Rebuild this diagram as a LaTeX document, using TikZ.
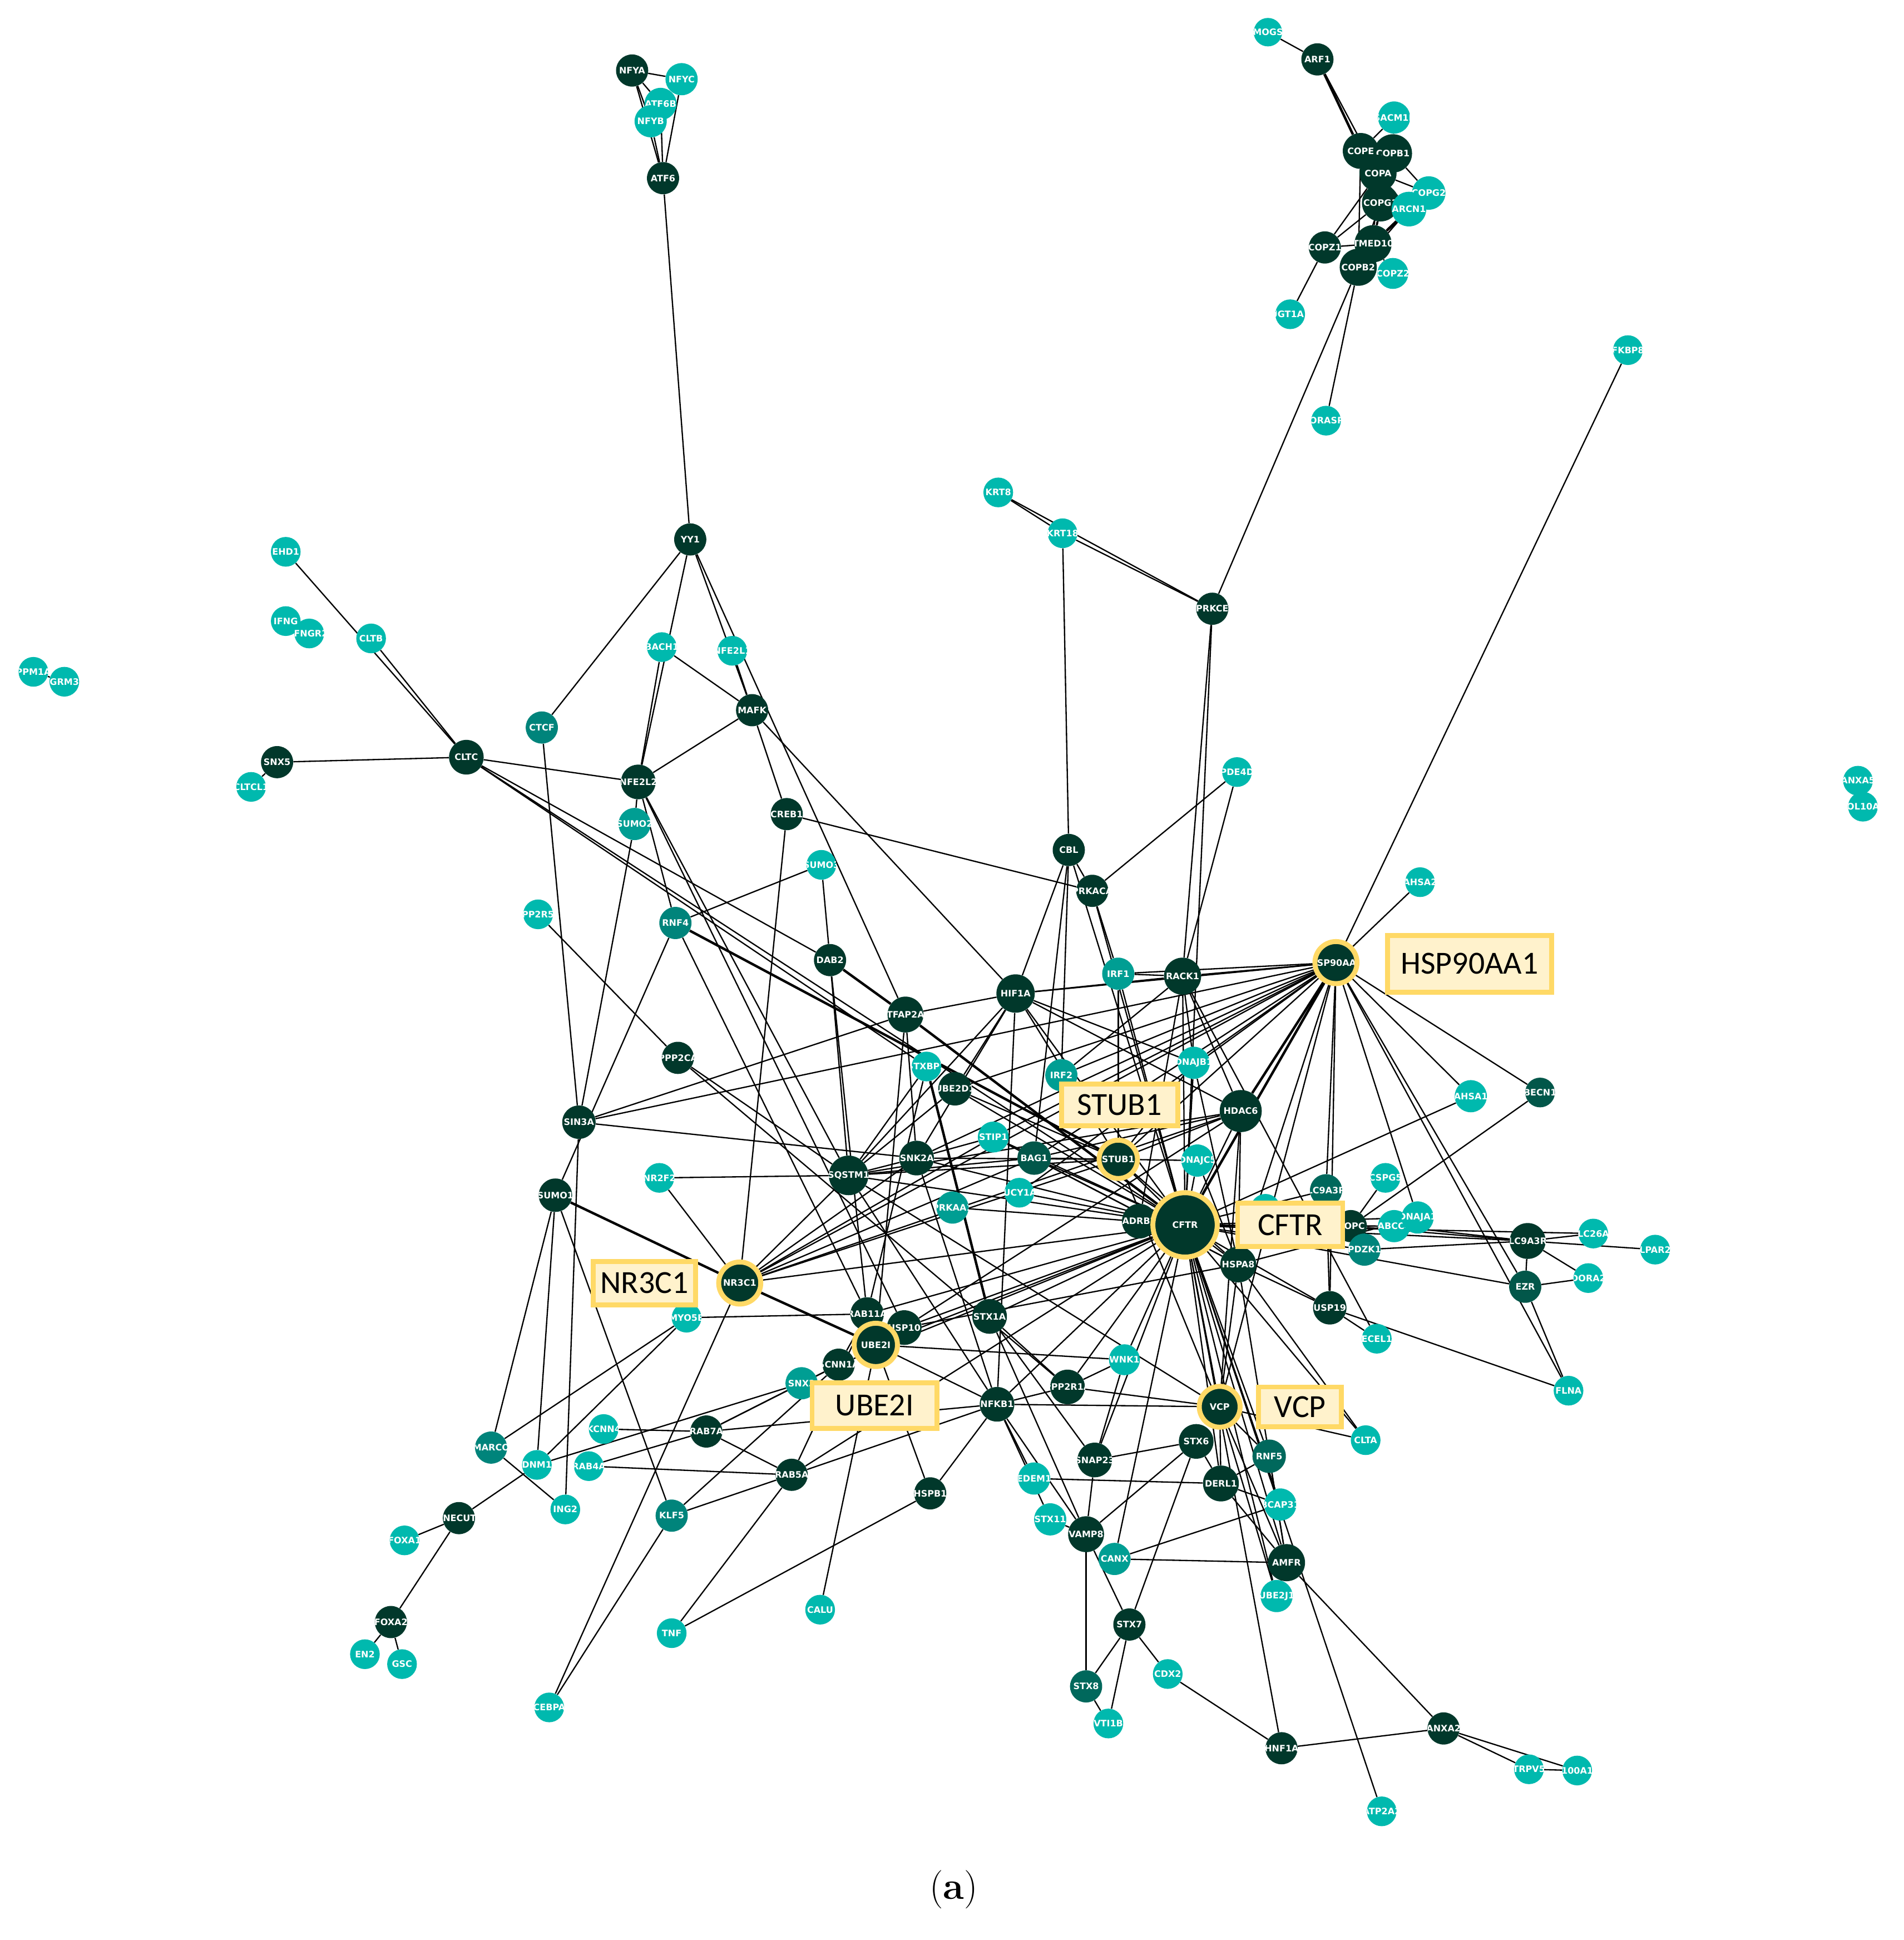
\documentclass[tikz,border=0pt]{standalone}
\usepackage{fontspec}
\newfontfamily\labfont{DejaVu Sans}
\newfontfamily\boxfont{Carlito}
\usetikzlibrary{backgrounds}
\definecolor{cdk}{HTML}{01382B}
\definecolor{ctwo}{HTML}{02574A}
\definecolor{ctwob}{HTML}{00685C}
\definecolor{cthree}{HTML}{00847B}
\definecolor{cfour}{HTML}{009E93}
\definecolor{cbr}{HTML}{00B9AE}
\definecolor{cring}{HTML}{FFD966}
\definecolor{cbox}{HTML}{FFF2CC}
\tikzset{
 lbl/.style={text=white, font=\labfont\bfseries\fontsize{7.2}{7.2}\selectfont, inner sep=0pt, fill=none, draw=none},
 nd/.style={circle, inner sep=0pt, path picture={\node[lbl] at (path picture bounding box.center) {#1};}},
 dkn/.style={nd={#1}, fill=cdk, minimum size=26pt},
 twn/.style={nd={#1}, fill=ctwo, minimum size=26pt},
 twbn/.style={nd={#1}, fill=ctwob, minimum size=26pt},
 thn/.style={nd={#1}, fill=cthree, minimum size=26pt},
 fon/.style={nd={#1}, fill=cfour, minimum size=26pt},
 brn/.style={nd={#1}, fill=cbr, minimum size=24pt},
 rgn/.style={nd={#1}, fill=cdk, draw=cring, line width=4pt},
 ed/.style={draw=black, line width=1.05pt},
 thk/.style={draw=black, line width=2pt},
 lbox/.style={rectangle, draw=cring, fill=cbox, line width=4pt, inner sep=0pt, font=\boxfont\fontsize{26}{26}\selectfont, text=black},
}
\begin{document}
\begin{tikzpicture}[x=1pt,y=-1pt]
\useasboundingbox (0,0) rectangle (1539,1568);
% ---------- nodes ----------
% NFY cluster
\node[brn=ATF6B,minimum size=26pt] (atf6b) at (534,84) {};
\node[brn=NFYC,minimum size=26pt] (nfyc) at (551,64) {};
\node[brn=NFYB,minimum size=26pt] (nfyb) at (526,98) {};
\node[dkn=NFYA] (nfya) at (511,57) {};
\node[dkn=ATF6] (atf6) at (536,144) {};
% COP cluster
\node[brn=MOGS,minimum size=23pt] (mogs) at (1025,26) {};
\node[dkn=ARF1] (arf1) at (1065,48) {};
\node[brn=SACM1L,minimum size=26pt] (sacm1l) at (1127,95) {};
\node[dkn=COPE,minimum size=29pt] (cope) at (1100,122) {};
\node[dkn=COPB1,minimum size=31pt] (copb1) at (1126,124) {};
\node[dkn=COPA,minimum size=30pt] (copa) at (1114,140) {};
\node[brn=COPG2,minimum size=27pt] (copg2) at (1155,156) {};
\node[dkn=COPG1,minimum size=30pt] (copg1) at (1116,164) {};
\node[brn=ARCN1,minimum size=28pt] (arcn1) at (1139,169) {};
\node[dkn=COPZ1] (copz1) at (1071,200) {};
\node[dkn=TMED10,minimum size=30pt] (tmed10) at (1110,197) {};
\node[dkn=COPB2,minimum size=30pt] (copb2) at (1098,216) {};
\node[brn=COPZ2,minimum size=25pt] (copz2) at (1126,221) {};
\node[brn=UGT1A1] (ugt) at (1043,254) {};
\node[brn=GORASP2] (gorasp) at (1072,340) {};
\node[brn=FKBP8] (fkbp8) at (1316,283) {};
% left / top
\node[dkn=YY1] (yy1) at (558,436) {};
\node[brn=KRT8] (krt8) at (807,398) {};
\node[brn=KRT18] (krt18) at (859,431) {};
\node[dkn=PRKCE] (prkce) at (980,492) {};
\node[brn=EHD1] (ehd1) at (231,446) {};
\node[brn=IFNG] (ifng) at (231,502) {};
\node[brn=IFNGR2] (ifngr2) at (250,512) {};
\node[brn=CLTB] (cltb) at (300,516) {};
\node[brn=PPM1A] (ppm1a) at (27,543) {};
\node[brn=GRM3] (grm3) at (52,551) {};
\node[dkn=SNX5] (snx5) at (224,616) {};
\node[brn=CLTCL1] (cltcl1) at (203,636) {};
\node[dkn=CLTC,minimum size=28pt] (cltc) at (377,612) {};
\node[thn=CTCF] (ctcf) at (438,588) {};
\node[brn=BACH1] (bach1) at (535,523) {};
\node[brn=NFE2L1] (nfe2l1) at (592,526) {};
\node[dkn=MAFK] (mafk) at (608,574) {};
\node[dkn=NFE2L2,minimum size=28pt] (nfe2l2) at (516,632) {};
\node[fon=SUMO2] (sumo2) at (513,666) {};
\node[dkn=CREB1] (creb1) at (636,658) {};
\node[brn=SUMO3] (sumo3) at (664,699) {};
\node[thn=RNF4] (rnf4) at (546,746) {};
\node[brn=PPP2R5A] (ppp2r5) at (435,739) {};
\node[dkn=DAB2] (dab2) at (671,776) {};
\node[dkn=PPP2CA] (ppp2ca) at (548,855) {};
\node[dkn=SIN3A,minimum size=27pt] (sin3a) at (468,907) {};
\node[dkn=SUMO1,minimum size=27pt] (sumo1) at (449,966) {};
\node[brn=NR2F2] (nr2f2) at (533,952) {};
\node[brn=PDE4D] (pde4d) at (1000,624) {};
\node[dkn=CBL] (cbl) at (864,687) {};
\node[dkn=PRKACA] (prkaca) at (883,720) {};
\node[brn=AHSA2] (ahsa2) at (1148,713) {};
% centre
\node[dkn=HIF1A,minimum size=31pt] (hif1a) at (821,803) {};
\node[dkn=TFAP2A,minimum size=29pt] (tfap2a) at (732,820) {};
\node[fon=IRF1] (irf1) at (904,787) {};
\node[dkn=RACK1,minimum size=30pt] (rack1) at (956,789) {};
\node[fon=IRF2] (irf2) at (858,869) {};
\node[brn=STXBP1] (stxbp1) at (749,862) {};
\node[dkn=UBE2D1,minimum size=27pt] (ube2d1) at (772,880) {};
\node[brn=DNAJB1,minimum size=26pt] (dnajb1) at (965,859) {};
\node[dkn=HDAC6,minimum size=34pt] (hdac6) at (1003,898) {};
\node[brn=STIP1,minimum size=25pt] (stip1) at (803,919) {};
\node[twn=BAG1,minimum size=27pt] (bag1) at (836,936) {};
\node[dkn=CSNK2A1,minimum size=28pt] (csnk2a1) at (741,936) {};
\node[dkn=SQSTM1,minimum size=32pt] (sqstm1) at (686,950) {};
\node[brn=DNAJC5,minimum size=26pt] (dnajc5) at (968,938) {};
\node[brn=GUCY1A3] (gucy1a) at (824,964) {};
\node[fon=PRKAA1] (prkaa1) at (770,976) {};
\node[dkn=ADRB2,minimum size=28pt] (adrb2) at (921,987) {};
\node[brn={}] (hid) at (1023,977) {};
\node[brn=AHSA1,minimum size=26pt] (ahsa1) at (1189,886) {};
\node[twn=BECN1,minimum size=24pt] (becn1) at (1245,883) {};
\node[twbn=SLC9A3R2] (slcr2) at (1072,962) {};
\node[brn=CSPG5] (cspg5) at (1120,952) {};
\node[dkn=GOPC] (gopc) at (1092,991) {};
\node[brn=ABCC4,minimum size=26pt] (abcc4) at (1127,991) {};
\node[brn=DNAJA1,minimum size=26pt] (dnaja1) at (1146,984) {};
\node[thn=PDZK1] (pdzk1) at (1103,1010) {};
\node[dkn=HSPA8,minimum size=29pt] (hspa8) at (1001,1022) {};
\node[dkn=USP19,minimum size=27pt] (usp19) at (1075,1057) {};
\node[brn=ECEL1] (ecel1) at (1113,1082) {};
\node[dkn=SLC9A3R1,minimum size=29pt] (slcr1) at (1235,1003) {};
\node[brn=SLC26A9] (slc26) at (1288,997) {};
\node[brn=LPAR2] (lpar2) at (1338,1010) {};
\node[brn=ADORA2B] (adora) at (1284,1033) {};
\node[twn=EZR] (ezr) at (1233,1040) {};
\node[brn=FLNA] (flna) at (1268,1124) {};
\node[brn=CLTA] (clta) at (1104,1164) {};
\node[brn=ANXA5] (anxa5) at (1502,631) {};
\node[brn=COL10A1] (col10) at (1506,652) {};
% lower
\node[brn=MYO5B] (myo5b) at (555,1065) {};
\node[dkn=RAB11A,minimum size=27pt] (rab11a) at (701,1062) {};
\node[dkn=USP10,minimum size=28pt] (usp10) at (731,1073) {};
\node[dkn=SCNN1A] (scnn1a) at (678,1103) {};
\node[fon=SNX3] (snx3) at (648,1118) {};
\node[dkn=STX1A,minimum size=28pt] (stx1a) at (800,1064) {};
\node[brn=WNK1,minimum size=25pt] (wnk1) at (909,1099) {};
\node[dkn=PPP2R1A,minimum size=28pt] (ppp2r1a) at (863,1121) {};
\node[dkn=NFKB1,minimum size=28pt] (nfkb1) at (806,1135) {};
\node[brn=KCNN4] (kcnn4) at (488,1155) {};
\node[dkn=RAB7A] (rab7a) at (571,1157) {};
\node[brn=RAB4A] (rab4a) at (476,1185) {};
\node[dkn=RAB5A] (rab5a) at (640,1192) {};
\node[thn=MARCO] (marco) at (397,1170) {};
\node[brn=DNM1] (dnm1) at (434,1184) {};
\node[brn=ING2] (ing2) at (457,1220) {};
\node[dkn=ONECUT1] (onecut1) at (371,1227) {};
\node[brn=FOXA1] (foxa1) at (327,1245) {};
\node[dkn=FOXA2] (foxa2) at (316,1311) {};
\node[brn=EN2] (en2) at (295,1337) {};
\node[brn=GSC] (gsc) at (325,1345) {};
\node[thn=KLF5] (klf5) at (543,1225) {};
\node[dkn=HSPB1] (hspb1) at (752,1207) {};
\node[dkn=SNAP23,minimum size=28pt] (snap23) at (885,1180) {};
\node[dkn=STX6,minimum size=28pt] (stx6) at (967,1165) {};
\node[twbn=RNF5,minimum size=27pt] (rnf5) at (1026,1177) {};
\node[dkn=DERL1,minimum size=29pt] (derl1) at (987,1199) {};
\node[brn=BCAP31,minimum size=26pt] (bcap31) at (1035,1216) {};
\node[brn=EDEM1,minimum size=26pt] (edem1) at (836,1195) {};
\node[brn=STX11,minimum size=26pt] (stx11) at (849,1228) {};
\node[dkn=VAMP8,minimum size=29pt] (vamp8) at (878,1240) {};
\node[fon=CANX] (canx) at (901,1260) {};
\node[dkn=AMFR,minimum size=30pt] (amfr) at (1040,1263) {};
\node[brn=UBE2J1,minimum size=26pt] (ube2j1) at (1032,1290) {};
\node[brn=TNF] (tnf) at (543,1320) {};
\node[brn=CALU] (calu) at (663,1301) {};
\node[dkn=STX7] (stx7) at (913,1313) {};
\node[brn=CDX2] (cdx2) at (944,1353) {};
\node[twbn=STX8] (stx8) at (878,1363) {};
\node[brn=VTI1B] (vti1b) at (896,1393) {};
\node[brn=CEBPA] (cebpa) at (444,1380) {};
\node[dkn=HNF1A] (hnf1a) at (1036,1413) {};
\node[dkn=ANXA2] (anxa2) at (1167,1397) {};
\node[brn=TRPV5] (trpv5) at (1236,1430) {};
\node[brn=S100A10] (s100a10) at (1275,1431) {};
\node[brn=ATP2A2] (atp2a2) at (1117,1464) {};
% ringed hubs
\node[rgn=HSP90AA1,minimum size=34pt] (hsp90) at (1080,778) {};
\node[rgn=STUB1,minimum size=31pt] (stub1) at (904,937) {};
\node[rgn=CFTR,minimum size=52pt] (cftr) at (958,990) {};
\node[rgn=NR3C1,minimum size=34pt] (nr3c1) at (598,1037) {};
\node[rgn=UBE2I,minimum size=35pt] (ube2i) at (708,1087) {};
\node[rgn=VCP,minimum size=33pt] (vcp) at (986,1137) {};
% ---------- edges ----------
\begin{pgfonlayer}{background}
\fill[white] (0,0) rectangle (1539,1568);
\foreach \a/\b in {nfya/nfyc,nfya/atf6b,nfya/nfyb,nfya/atf6,nfyb/atf6,atf6b/atf6,nfyc/atf6,atf6/yy1,
 mogs/arf1,arf1/copa,sacm1l/cope,sacm1l/copb1,cope/copb1,cope/copa,copb1/copa,copa/copg1,copb1/copg2,copa/copg2,copa/arcn1,copg1/arcn1,copg1/copz1,copa/copz1,copz1/tmed10,copg1/tmed10,copa/tmed10,cope/copb2,copg1/copb2,tmed10/copb2,copg2/tmed10,tmed10/copz2,copb1/tmed10,copz1/ugt,copb2/gorasp,copb2/prkce,arcn1/copb2,
 ehd1/cltc,cltb/cltc,ppm1a/grm3,snx5/cltc,snx5/cltcl1,cltc/nfe2l2,cltc/dab2,cltc/stxbp1,cltc/cftr,
 yy1/ctcf,yy1/nfe2l2,yy1/mafk,yy1/tfap2a,bach1/nfe2l2,bach1/mafk,nfe2l1/mafk,mafk/nfe2l2,mafk/creb1,mafk/hif1a,ctcf/sin3a,nfe2l2/sumo2,nfe2l2/rnf4,nfe2l2/sqstm1,nfe2l2/usp10,creb1/prkaca,creb1/nr3c1,sumo3/rnf4,sumo3/dab2,sumo2/sin3a,ppp2r5/ppp2ca,rnf4/sumo1,rnf4/rab11a,dab2/sqstm1,dab2/rab11a,tfap2a/hif1a,tfap2a/csnk2a1,tfap2a/ube2i,sin3a/tfap2a,sin3a/hsp90,sin3a/csnk2a1,sin3a/ing2,ppp2ca/sqstm1,ppp2ca/ppp2r1a,
 sumo1/marco,sumo1/dnm1,sumo1/klf5,nr2f2/nr3c1,nr2f2/sqstm1,
 nr3c1/cebpa,nr3c1/csnk2a1,nr3c1/hsp90,nr3c1/stub1,nr3c1/hdac6,nr3c1/cftr,nr3c1/bag1,nr3c1/stip1,nr3c1/sqstm1,
 ube2i/usp10,ube2i/nfkb1,ube2i/wnk1,ube2i/calu,ube2i/hspb1,ube2i/rab11a,ube2i/cftr,
 usp10/cftr,usp10/hspa8,usp10/hdac6,
 scnn1a/cftr,scnn1a/snx3,scnn1a/rab7a,scnn1a/klf5,scnn1a/rab11a,snx3/dnm1,snx3/rab7a,
 rab11a/myo5b,rab11a/stxbp1,rab11a/rab5a,rab11a/cftr,
 marco/myo5b,dnm1/myo5b,onecut1/dnm1,marco/ing2,kcnn4/rab7a,rab4a/rab7a,rab4a/rab5a,rab7a/rab5a,rab7a/nfkb1,klf5/rab5a,klf5/cebpa,tnf/rab5a,tnf/hspb1,onecut1/foxa1,onecut1/foxa2,foxa2/en2,foxa2/gsc,rab5a/cftr,rab5a/nfkb1,
 stx1a/cftr,stx1a/snap23,stx1a/vamp8,stx1a/ppp2r1a,
 nfkb1/vcp,nfkb1/ppp2r1a,nfkb1/hif1a,nfkb1/csnk2a1,nfkb1/sqstm1,nfkb1/edem1,nfkb1/vamp8,nfkb1/stx11,nfkb1/hspb1,
 ppp2r1a/vcp,ppp2r1a/wnk1,ppp2r1a/cftr,
 vcp/amfr,vcp/derl1,vcp/hdac6,vcp/cftr,vcp/clta,vcp/hspa8,vcp/ube2j1,vcp/stub1,vcp/sqstm1,vcp/rnf5,
 snap23/stx6,snap23/vamp8,snap23/wnk1,stx6/vamp8,stx6/stx7,stx6/derl1,
 derl1/amfr,derl1/rnf5,derl1/bcap31,derl1/edem1,derl1/cftr,
 amfr/canx,amfr/cftr,amfr/ube2j1,amfr/anxa2,amfr/rnf5,amfr/hspa8,
 bcap31/canx,bcap31/cftr,canx/cftr,ube2j1/cftr,stx11/vamp8,
 vamp8/stx7,vamp8/stx8,stx7/stx8,stx7/vti1b,stx8/vti1b,stx7/cdx2,cdx2/hnf1a,hnf1a/anxa2,hnf1a/cftr,anxa2/trpv5,anxa2/s100a10,trpv5/s100a10,atp2a2/cftr,
 cftr/hdac6,cftr/stub1,cftr/hspa8,cftr/usp19,cftr/slcr1,cftr/slcr2,cftr/pdzk1,cftr/gopc,cftr/ezr,cftr/slc26,cftr/abcc4,cftr/dnaja1,cftr/dnajb1,cftr/dnajc5,cftr/ahsa1,cftr/bag1,cftr/csnk2a1,cftr/sqstm1,cftr/prkaa1,cftr/prkaca,cftr/rack1,cftr/irf1,cftr/cbl,cftr/prkce,cftr/nfkb1,cftr/wnk1,cftr/gucy1a,cftr/stip1,cftr/ube2d1,cftr/hif1a,cftr/rnf5,cftr/snap23,cftr/clta,
 hsp90/fkbp8,hsp90/ahsa2,hsp90/ahsa1,hsp90/stub1,hsp90/rack1,hsp90/irf1,hsp90/hif1a,hsp90/csnk2a1,hsp90/stip1,hsp90/gucy1a,hsp90/hspa8,hsp90/ezr,hsp90/dnaja1,hsp90/slcr2,hsp90/flna,hsp90/usp19,hsp90/becn1,hsp90/bag1,hsp90/dnajb1,hsp90/irf2,hsp90/vcp,hsp90/ube2d1,
 hdac6/stub1,hdac6/hspa8,hdac6/sqstm1,hdac6/hif1a,hdac6/rack1,hdac6/bag1,
 stub1/hspa8,stub1/bag1,stub1/ube2d1,stub1/hif1a,stub1/irf1,stub1/dnajc5,stub1/sqstm1,stub1/csnk2a1,stub1/dnajb1,
 hif1a/cbl,hif1a/rack1,hif1a/sqstm1,hif1a/ube2d1,hif1a/csnk2a1,hif1a/dnajb1,
 irf1/rack1,irf1/prkaca,cbl/krt18,cbl/prkaca,cbl/irf2,cbl/bag1,
 rack1/prkce,rack1/irf2,rack1/adrb2,rack1/dnajb1,rack1/ecel1,
 krt8/krt18,krt8/prkce,krt18/prkce,pde4d/prkaca,pde4d/rack1,
 ube2d1/sqstm1,stxbp1/sqstm1,stip1/csnk2a1,stip1/hspa8,bag1/hspa8,bag1/sqstm1,csnk2a1/sqstm1,
 dnajc5/hspa8,dnajb1/hspa8,hspa8/usp19,hspa8/clta,hspa8/dnaja1,
 usp19/ecel1,usp19/flna,usp19/slcr2,becn1/gopc,cspg5/gopc,
 slcr1/pdzk1,slcr1/gopc,slcr1/abcc4,slcr1/slc26,slcr1/lpar2,slcr1/adora,slcr1/ezr,ezr/adora,ezr/flna,anxa5/col10}
 \draw[ed] (\a) -- (\b);
\foreach \a/\b in {arf1/cope,arcn1/tmed10,sumo1/nr3c1,nr3c1/ube2i,dab2/tfap2a,tfap2a/cftr,stxbp1/stx1a,hsp90/cftr,hsp90/hdac6,rnf4/stub1,cftr/adrb2}
 \draw[thk] (\a) -- (\b);
\end{pgfonlayer}
% ---------- callout boxes ----------
\node[lbox,minimum width=133pt,minimum height=46pt] (bhsp) at (1188,779) {HSP90AA1};
\node[lbox,minimum width=94pt,minimum height=34pt] (bstub) at (905,893) {STUB1};
\node[lbox,minimum width=85pt,minimum height=35pt] (bcftr) at (1043,990) {CFTR};
\node[lbox,minimum width=83pt,minimum height=35pt] (bnr) at (521,1037) {NR3C1};
\node[lbox,minimum width=101pt,minimum height=37pt] (bube) at (707,1136) {UBE2I};
\node[lbox,minimum width=67pt,minimum height=32pt] (bvcp) at (1051,1137) {VCP};
% caption
\node[font=\fontsize{31}{31}\selectfont,inner sep=0pt] (cap) at (771,1527) {(\textbf{a})};
\end{tikzpicture}
\end{document}
